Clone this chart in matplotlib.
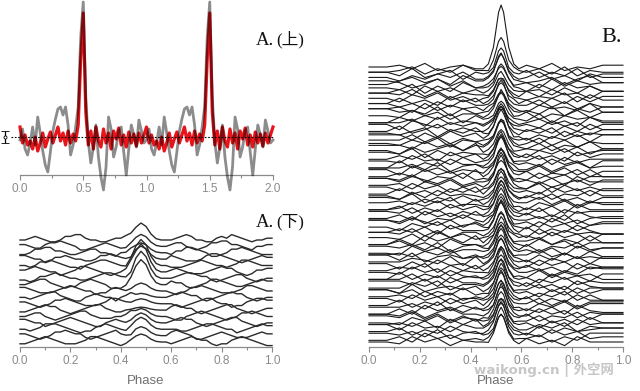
import numpy as np
import matplotlib
matplotlib.use('Agg')
import matplotlib.pyplot as plt

W, H = 640, 391

# ---- A (top): one period of the folded profile, read every 0.02 in phase (px above baseline)
top_gray = [-3, 8, -12, -18, -6, 10, -8, 20, 4, -14,
            -28, -35, -15, 6, 18, 28, 30, 22, 30, 12,
            -18, -8, 10, 30, 100, 135, 40, -5, -26, -10,
            12, -20, -40, -53, -30, 20, 8, -20, -10, 6,
            10, -15, -38, -12, 12, 2, -10, 17, 6, -6]
top_red = [10, -6, 2, -8, -4, -12, 0, -14, -6, 4,
           -10, -2, 5, -6, 2, 10, -4, 4, -8, 6,
           -6, 3, -4, 12, 78, 124, 25, -8, 6, -12,
           10, -4, -10, 8, -6, 4, -12, 6, -2, 9,
           -8, 2, -10, 5, -6, 3, -9, 4, -6, 2]

# ---- A (bottom): 17 single-pulse profiles, phase step 0.02, digit noise (4 = flat)
low_noise = [
    "4456543346 6775443345 5654444444 4567644335 6576543445 5",
    "5543356676 5422345654 3344444444 5664323466 7755432445 5",
    "3346677554 3345664432 4454444444 3557765422 3466765433 3",
    "6654423556 5443346676 5434444444 6543334677 6543234565 5",
    "4434667654 3324567765 4344444444 3334567654 4345776544 4",
    "5567654423 4577654323 4564444444 5654333456 7664323556 6",
    "3323556765 4433456776 5434444444 4567765532 3456643234 4",
    "4456775432 3356765422 2344444444 6553234577 6543345676 6",
    "6654333456 7654423356 5444444444 3234667654 3334577654 4",
    "4434567754 3224565442 4564444444 5676553234 5676643234 4",
    "5543234667 6543334577 6544444444 4323456775 4423356776 6",
    "3345676643 2345677543 3444444444 6765532345 6775432345 5",
    "4456643234 5677543334 4564444444 3224567654 3234667654 4",
    "6654423456 7654322456 5444444444 5676643234 5677543234 4",
    "4434577765 4323356765 4344444444 4433456776 5442345676 6",
    "5543234667 6553234567 5434444444 6765422345 6543334565 5",
    "3345676543 3345776543 2344444444 3456765532 3356765432 2",
]
low_amp = [17, 12, 10, 13, 26, 28, 27, 25, 8, 4, 5, 3, 8, 10, 12, 9, 8]
# pulse shape at phase 0.42 ... 0.54
low_shape = [0.05, 0.3, 0.75, 1.0, 0.8, 0.35, 0.08]

# ---- B: 80 profiles on an uneven phase grid (finer across the pulse)
b_phase = [0.00, 0.07, 0.12, 0.17, 0.22, 0.27, 0.32, 0.37, 0.42,
           0.45, 0.47, 0.49, 0.51, 0.52, 0.53, 0.55, 0.57, 0.59,
           0.62, 0.67, 0.72, 0.77, 0.82, 0.87, 0.92, 1.00]
b_shape = [0, 0, 0, 0, 0, 0, 0, 0, 0,
           0.0, 0.05, 0.32, 0.88, 1.0, 0.88, 0.32, 0.05, 0.0,
           0, 0, 0, 0, 0, 0, 0, 0]
b_amp = [62, 33, 26, 22, 28, 18, 24, 20, 16, 22, 19, 25, 17, 21, 23, 18,
         15, 20, 26, 22, 30, 19, 24, 28, 21, 17, 26, 23, 30, 19, 22, 27,
         18, 25, 33, 21, 24, 19, 28, 22, 26, 20, 29, 23, 18, 27, 24, 31,
         21, 26, 19, 28, 23, 25, 20, 30, 24, 27, 22, 26, 21, 29, 24, 27,
         22, 30, 25, 28, 23, 27, 24, 29, 26, 22, 28, 25, 30, 26, 24, 28]
b_noise = [
    "44 5362453 344444443 5362435 5", "33 4625374 434444454 3526143 3",
    "55 3724615 443444344 6253724 4", "44 2536473 344454443 4735264 4",
    "22 4635274 454443444 3462573 3", "66 5247362 344444434 5273645 5",
    "44 3615274 443444544 2637452 2", "33 5274635 344443444 4526374 4",
    "55 4736254 434544443 6374526 6", "44 2647352 444434444 3547263 3",
    "33 6352746 344444453 5263747 7", "55 3526374 443444344 4736253 3",
    "44 5273645 354444443 2645372 2", "66 4537263 444354444 5372647 7",
    "44 3746255 344444434 6254736 6", "22 5364726 443444444 3726453 3",
    "44 4627354 344434443 4635274 4", "55 2753646 454444344 5374625 5",
    "33 6247353 344444444 3526374 4", "44 3572647 434454443 6472536 6",
    "55 5263746 344444434 2537465 5", "44 4736253 443444344 5264737 7",
    "33 3647265 344445443 4736254 4", "66 5374625 454344444 3625473 3",
    "44 2635748 344444434 5473625 5", "55 4726354 434444443 2647356 6",
    "33 5362746 344443444 6352746 6", "44 3745263 444454434 4726355 5",
    "22 6253744 343444444 5374623 3", "44 4637256 444344453 3625748 8",
    "55 2746354 354444444 4736251 1", "33 5374627 344443444 6254736 6",
    "44 3625473 434444434 3746255 5", "66 4753624 443454444 5362744 4",
    "44 5264735 344444443 2635747 7", "55 3746252 444434444 4726353 3",
    "33 6352647 354444344 5374626 6", "44 2637454 344444443 3625474 4",
    "55 4725363 443444454 6473525 5", "44 5364726 344344444 4736253 3",
    "22 3647355 434444434 2647366 6", "44 6253746 444454443 5362744 4",
    "55 4736253 344444344 3726455 5", "33 5274637 443444444 6352743 3",
    "44 3625474 354443444 4637256 6", "66 4753625 344444434 5274634 4",
    "44 2647356 434454444 3746257 7", "33 5362744 444344443 6253742 2",
    "55 4736255 344444444 2736454 4", "44 3627463 443444354 5374626 6",
    "22 5274637 354444434 4625373 3", "44 6352744 344344444 3746255 5",
    "55 4637256 434444443 6254734 4", "33 2746355 444454444 5362746 6",
    "44 5364723 344444434 4735263 3", "66 3725646 443444344 2637454 4",
    "44 4653727 344443444 5264737 7", "55 2637452 454444443 3746253 3",
    "33 5472636 344344444 6352745 5", "44 3746254 434444454 4625376 6",
    "22 6253743 344444434 3736452 2", "44 4736256 443454444 5274637 7",
    "55 5362744 344444344 2647354 4", "33 3647255 454443444 6352743 3",
    "44 2735646 344444434 4736255 5", "66 4625373 434344444 5263746 6",
    "44 5374624 344454443 3647252 2", "55 3746255 443444344 6253744 4",
    "33 6253746 354444444 4736255 5", "44 4637253 344443434 2647366 6",
    "22 5274636 443444444 5362743 3", "44 3625744 344354443 3746254 4",
    "55 4736252 434444344 6254736 6", "33 2647365 444444434 4735263 3",
    "44 5362747 344434444 5263745 5", "66 3745264 454444443 3647254 4",
    "44 6253743 344444344 2736456 6", "55 4637256 443454444 5374623 3",
    "33 5274634 344444434 4625377 7", "44 3746254 434444443 6352744 4",
]

TICK_C = '#8a8a8a'
plt.rcParams['font.family'] = ['Liberation Sans', 'DejaVu Sans']


def digits(s):
    return np.array([int(c) for c in s.replace(' ', '')], dtype=float) - 4


def px_axes(fig, x0, x1, y_top, y_bot):
    return fig.add_axes([x0 / W, 1 - y_bot / H, (x1 - x0) / W, (y_bot - y_top) / H])


def style_axis(ax, major, minor):
    for s in ['left', 'right', 'top']:
        ax.spines[s].set_visible(False)
    ax.spines['bottom'].set_position(('data', 0))
    ax.spines['bottom'].set_color(TICK_C)
    ax.spines['bottom'].set_linewidth(0.9)
    ax.set_yticks([])
    ax.set_xticks(major)
    ax.set_xticks(minor, minor=True)
    ax.xaxis.set_major_formatter(matplotlib.ticker.FormatStrFormatter('%.1f'))
    ax.tick_params(axis='x', which='both', direction='out', color=TICK_C,
                   labelcolor=TICK_C, labelsize=8.5, pad=2, width=0.8)
    ax.tick_params(axis='x', which='major', length=3.5)
    ax.tick_params(axis='x', which='minor', length=2)
    ax.patch.set_alpha(0)


def px_text(fig, x, y, s, **kw):
    fig.text(x / W, 1 - y / H, s, va='baseline', **kw)


fig = plt.figure(figsize=(W / 100, H / 100), dpi=100)

# ---------------- A (top)
ax = px_axes(fig, 20, 273, 0, 195)
ax.set_xlim(0, 2)
ax.set_ylim(-20, 175)
style_axis(ax, np.arange(0, 2.01, 0.5), np.arange(0, 2.01, 0.25))
base = 38
ph = np.arange(len(top_gray)) * 0.02
x2 = np.concatenate([ph, ph + 1, [2.0]])
gray2 = np.array(top_gray + top_gray + top_gray[:1]) + base
red2 = np.array(top_red + top_red + top_red[:1]) + base
# red first, then a translucent dark trace over it (dark red where they overlap)
ax.plot(x2, red2, color='#e8141a', lw=2.3, clip_on=False, zorder=2)
ax.plot(x2, gray2, color='black', alpha=0.45, lw=2, clip_on=False, zorder=3)
ax.plot([-0.07, 2.0], [base, base], color='k', lw=0.8, ls=(0, (1.5, 1.5)), clip_on=False, zorder=4)
eb = ax.errorbar([-0.115], [base], yerr=[6], color='k', lw=0.9, capsize=3,
                 marker='o', ms=2.2, mfc='white', mew=0.6)
for art in eb.get_children():
    art.set_clip_on(False)

# ---------------- A (bottom)
ax = px_axes(fig, 20, 272, 200, 350)
ax.set_xlim(0, 1)
ax.set_ylim(-3, 147)
style_axis(ax, np.arange(0, 1.01, 0.2), np.arange(0, 1.01, 0.1))
low_x = np.arange(51) * 0.02
offsets = np.linspace(107, 5, len(low_noise))
for i, s in enumerate(low_noise):
    y = digits(s) * 1.8
    y[21:28] += low_amp[i] * np.array(low_shape)
    ax.plot(low_x, offsets[i] + y, color='#2b2b2b', lw=1.0, clip_on=False)
ax.set_xlabel('Phase', color='#707070', fontsize=9.5, labelpad=6)

# ---------------- B
ax = px_axes(fig, 369, 623, 0, 350)
ax.set_xlim(0, 1)
ax.set_ylim(-3, 347)
style_axis(ax, np.arange(0, 1.01, 0.2), np.arange(0, 1.01, 0.1))
offsets = np.linspace(280, 5, len(b_noise))
shape = np.array(b_shape)
for i, s in enumerate(b_noise):
    y = digits(s) * 1.8 + b_amp[i] * shape
    ax.plot(b_phase, offsets[i] + y, color='#1a1a1a', lw=0.8, clip_on=False)
ax.set_xlabel('Phase', color='#707070', fontsize=9.5, labelpad=6)

# ---------------- panel labels and watermark
serif = ['Liberation Serif', 'Noto Sans CJK SC']
px_text(fig, 256, 45, 'A.', fontsize=13.5, family=serif, color='#111')
px_text(fig, 276, 44, '(上)', fontsize=12, family=serif, color='#111')
px_text(fig, 256, 227, 'A.', fontsize=13.5, family=serif, color='#111')
px_text(fig, 276, 226, '(下)', fontsize=12, family=serif, color='#111')
px_text(fig, 601, 42, 'B.', fontsize=16, family=serif, color='#111')
px_text(fig, 474, 374, 'waikong.cn | 外空网', fontsize=9.6, fontweight='bold',
        color='#c6c6c6', family=['DejaVu Sans', 'Noto Sans CJK SC'])

fig.savefig('out.png', dpi=100)
